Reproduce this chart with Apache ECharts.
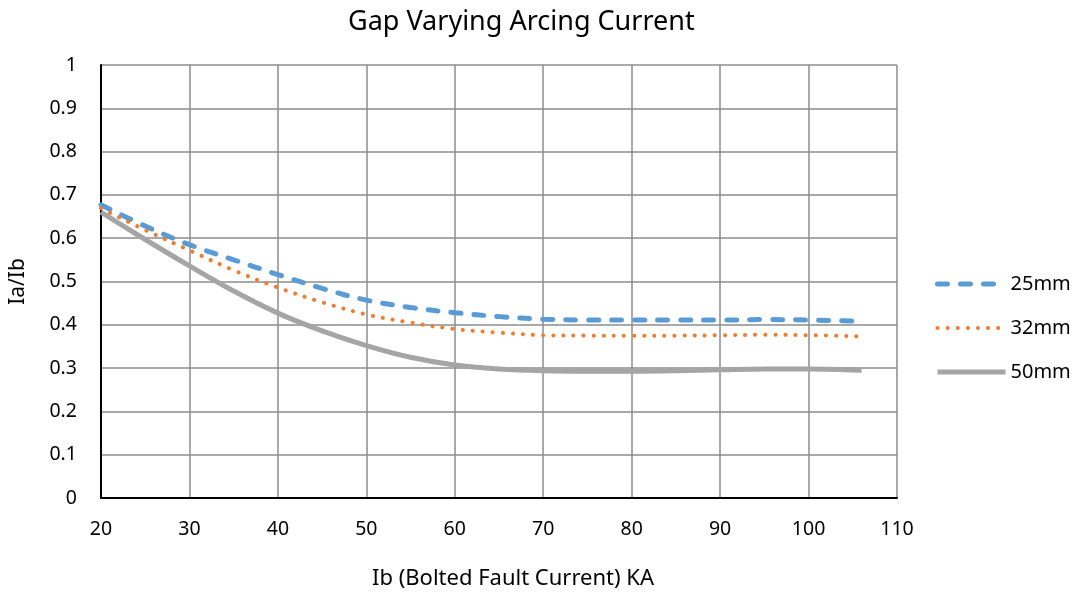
<!DOCTYPE html>
<html>
<head>
<meta charset="utf-8">
<script src="https://cdn.jsdelivr.net/npm/echarts@6/dist/echarts.min.js"></script>
<style>
  html, body { margin: 0; padding: 0; background: #fff; }
  #chart { width: 1075px; height: 595px; }
</style>
</head>
<body>
<div id="chart"></div>
<script>
// Ib values (KA)
const ib = [20, 25, 30, 35, 40, 45, 50, 55, 60, 65, 70, 75, 80, 85, 90, 95, 100, 106];
const gap25 = [0.677, 0.628, 0.585, 0.550, 0.516, 0.484, 0.457, 0.440, 0.428, 0.419, 0.413, 0.411, 0.411, 0.411, 0.411, 0.412, 0.411, 0.408];
const gap32 = [0.669, 0.619, 0.572, 0.526, 0.486, 0.452, 0.424, 0.405, 0.390, 0.382, 0.376, 0.375, 0.375, 0.375, 0.376, 0.377, 0.376, 0.373];
const gap50 = [0.660, 0.597, 0.536, 0.478, 0.427, 0.386, 0.352, 0.325, 0.307, 0.298, 0.294, 0.293, 0.293, 0.294, 0.296, 0.298, 0.298, 0.295];
const seriesNames = ['25mm', '32mm', '50mm'];

const font = 'Noto Sans';
const colors = ['#5B9BD5', '#ED7D31', '#A5A5A5'];
const lineStyles = [
  { color: colors[0], width: 5, type: [10, 13], cap: 'round' },
  { color: colors[1], width: 4, type: [0.1, 10], cap: 'round' },
  { color: colors[2], width: 5 }
];
const pairs = arr => ib.map((x, i) => [x, arr[i]]);
const values = [gap25, gap32, gap50];

const chart = echarts.init(document.getElementById('chart'), null, { renderer: 'canvas' });

chart.setOption({
  animation: false,
  textStyle: { fontFamily: font, color: '#000' },
  title: {
    text: 'Gap Varying Arcing Current',
    left: 343,
    top: 4,
    textStyle: { fontFamily: font, fontSize: 27, fontWeight: 'normal', color: '#000' }
  },
  legend: {
    orient: 'vertical',
    left: 930,
    top: 269,
    itemWidth: 68,
    itemHeight: 14,
    itemGap: 24,
    data: seriesNames.map((n, i) => ({
      name: n,
      lineStyle: lineStyles[i],
      itemStyle: { opacity: 0 }
    })),
    textStyle: { fontFamily: font, fontSize: 20, color: '#000' }
  },
  grid: { left: 101, right: 178, top: 65, bottom: 95 },
  xAxis: {
    type: 'value',
    min: 20,
    max: 110,
    interval: 10,
    name: 'Ib (Bolted Fault Current) KA',
    nameLocation: 'middle',
    nameGap: 70,
    nameTextStyle: { fontFamily: font, fontSize: 22, color: '#000', padding: [0, 0, 0, 28] },
    axisLine: { show: true, onZero: false, lineStyle: { color: '#000', width: 2 } },
    axisTick: { show: false },
    axisLabel: { fontFamily: font, fontSize: 19.5, color: '#000', margin: 21 },
    splitLine: { show: true, lineStyle: { color: '#8c8c8c', width: 1.5 } }
  },
  yAxis: {
    type: 'value',
    min: 0,
    max: 1,
    interval: 0.1,
    name: 'Ia/Ib',
    nameLocation: 'middle',
    nameGap: 72,
    nameTextStyle: { fontFamily: font, fontSize: 21, color: '#000' },
    axisLine: { show: true, lineStyle: { color: '#000', width: 2 } },
    axisTick: { show: false },
    axisLabel: { fontFamily: font, fontSize: 19.5, color: '#000', margin: 24 },
    splitLine: { show: true, lineStyle: { color: '#8c8c8c', width: 1.5 } }
  },
  series: seriesNames.map((n, i) => ({
    name: n,
    type: 'line',
    smooth: 0.35,
    symbol: 'none',
    data: pairs(values[i]),
    itemStyle: { color: colors[i] },
    lineStyle: lineStyles[i]
  }))
});
</script>
</body>
</html>
